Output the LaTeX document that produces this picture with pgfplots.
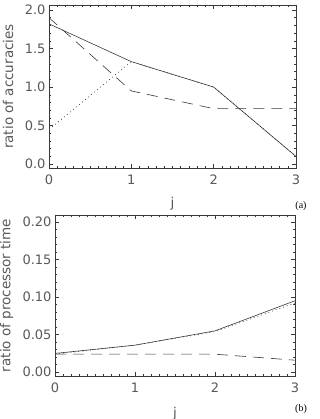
\documentclass[border=0pt]{standalone}
\usepackage{pgfplots}
\pgfplotsset{compat=1.18}
\usepackage{fontspec}
\setmainfont{DejaVu Sans}
\newfontfamily\serifb{Liberation Serif}
\definecolor{txt}{gray}{0.35}
\definecolor{ln}{gray}{0.22}
\begin{document}
\begin{tikzpicture}
\useasboundingbox (0pt,0pt) rectangle (320pt,419pt);
\pgfplotsset{
  myax/.style={
    scale only axis,
    anchor=south west,
    axis line style={color=ln, line width=0.6pt},
    tick style={color=ln, line width=0.5pt},
    major tick length=4pt,
    minor tick length=2pt,
    tick align=inside,
    xtick pos=both, ytick pos=both,
    xticklabel pos=bottom, yticklabel pos=left,
    tick label style={font=\fontsize{13}{15}\selectfont, color=txt},
    xticklabel style={yshift=-3pt},
    label style={font=\fontsize{13.5}{15}\selectfont, color=txt},
    /pgf/number format/assume math mode=true,
    xmin=0, xmax=3, xtick={0,1,2,3},
    minor x tick num=9,
    minor y tick num=4,
    xlabel={j},
    every axis plot/.append style={color=ln, line width=0.6pt},
  }
}
\begin{axis}[myax, at={(49pt,251pt)}, width=247pt, height=163pt,
  ymin=-0.05, ymax=2.065, ytick={0,0.5,1,1.5,2},
  yticklabel style={/pgf/number format/fixed,/pgf/number format/fixed zerofill,/pgf/number format/precision=1},
  ylabel={ratio of accuracies},
  xlabel style={at={(0.5,-0.155)}},
  ylabel style={at={(-0.13,0.5)}},
]
\addplot[solid] coordinates {(0,1.82) (1,1.33) (2,1.0) (3,0.1)};
\addplot[dash pattern=on 11pt off 7pt] coordinates {(0,1.9) (1,0.95) (2,0.72) (3,0.72)};
\addplot[dash pattern=on 0.9pt off 3pt] coordinates {(0,0.45) (1,1.33) (2,1.0) (3,0.1)};
\end{axis}
\node[font=\serifb\fontsize{10}{12}\selectfont, anchor=center] at (301pt,213pt) {(a)};
\begin{axis}[myax, at={(55pt,43pt)}, width=240pt, height=161pt,
  ymin=-0.005, ymax=0.209, ytick={0,0.05,0.1,0.15,0.2},
  yticklabel style={/pgf/number format/fixed,/pgf/number format/fixed zerofill,/pgf/number format/precision=2},
  ylabel={ratio of processor time},
  xlabel style={at={(0.5,-0.17)}},
  ylabel style={at={(-0.16,0.5)}},
]
\addplot[solid] coordinates {(0,0.025) (1,0.036) (2,0.055) (3,0.095)};
\addplot[dash pattern=on 11pt off 7pt] coordinates {(0,0.024) (1,0.024) (2,0.024) (3,0.016)};
\addplot[dash pattern=on 0.9pt off 3pt] coordinates {(0,0.024) (1,0.036) (2,0.054) (3,0.092)};
\end{axis}
\node[font=\serifb\fontsize{10}{12}\selectfont, anchor=center] at (301pt,10pt) {(b)};
\end{tikzpicture}
\end{document}
